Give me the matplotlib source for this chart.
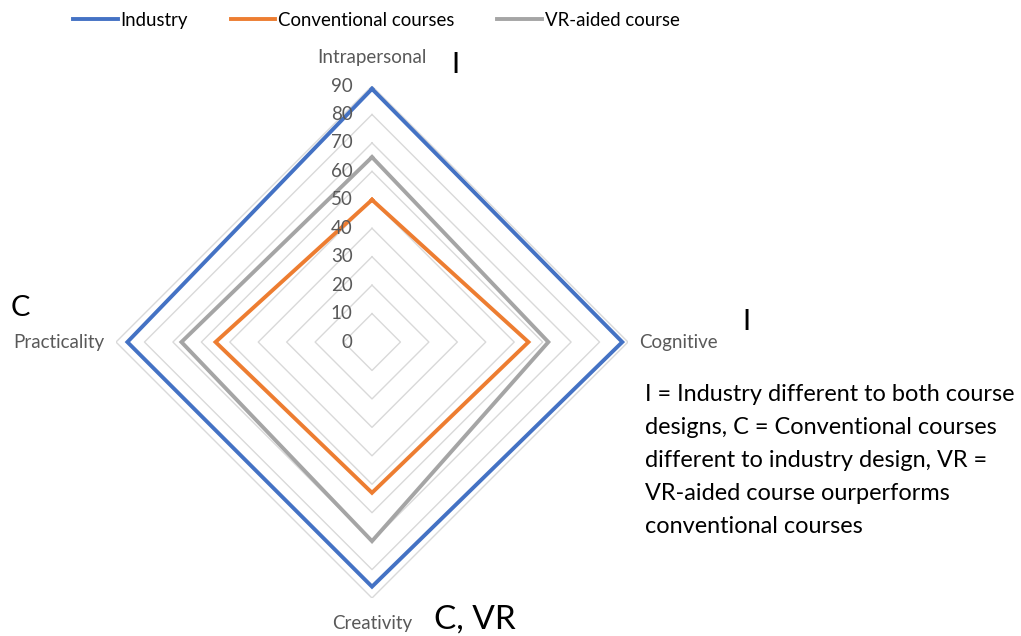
import numpy as np
import matplotlib
matplotlib.use("Agg")
from matplotlib import pyplot as plt

plt.rcParams['font.family'] = ['Lato', 'DejaVu Sans']

categories = ["Intrapersonal", "Cognitive", "Creativity", "Practicality"]
industry = [89, 88, 86, 86]
conventional = [50, 55, 53, 55]
vr_aided = [65, 62, 70, 67]
ring_levels = [10, 20, 30, 40, 50, 60, 70, 80, 90]
tick_labels = ["0", "10", "20", "30", "40", "50", "60", "70", "80", "90"]

series = [("Industry", industry, "#4472C4"),
          ("Conventional courses", conventional, "#ED7D31"),
          ("VR-aided course", vr_aided, "#A5A5A5")]


def closed(vals):
    return list(vals) + [vals[0]]


fig = plt.figure(figsize=(10.21, 6.36), dpi=100)
ax = fig.add_axes([0.1136, 0.0597, 0.5015, 0.805], projection="polar")
ax.set_theta_zero_location("N")
ax.set_theta_direction(-1)
ax.set_ylim(0, 90)
ax.grid(False)
ax.spines["polar"].set_visible(False)
ax.set_xticks([])
ax.set_yticks([])
ax.patch.set_alpha(0)

angles = np.linspace(0, 2 * np.pi, len(categories), endpoint=False)
theta = closed(list(angles))

# diamond gridlines
for lvl in ring_levels:
    ax.plot(theta, [lvl] * len(theta), color="#D9D9D9", lw=1, zorder=1)

handles = []
for name, vals, col in series:
    h, = ax.plot(theta, closed(vals), color=col, lw=2.8, label=name, zorder=3,
                 solid_joinstyle="miter")
    handles.append(h)

# radial value labels
for i, lab in enumerate(tick_labels):
    ax.annotate(lab, xy=(0, i * 10), xytext=(-14, 0), textcoords="offset points",
                ha="right", va="center", fontsize=13.5, color="#595959", zorder=4)

# category labels
lab_col = "#595959"
ax.text(angles[0], 97, categories[0], ha="center", va="bottom", fontsize=13.5, color=lab_col)
ax.text(angles[1], 94, categories[1], ha="left", va="center", fontsize=13.5, color=lab_col)
ax.text(angles[2], 96, categories[2], ha="center", va="top", fontsize=13.5, color=lab_col)
ax.text(angles[3], 94, categories[3], ha="right", va="center", fontsize=13.5, color=lab_col)

fig.legend(handles=handles, loc="upper left", bbox_to_anchor=(0.055, 1.008), ncol=3,
           frameon=False, fontsize=13.4, handlelength=2.4, handletextpad=0.15,
           columnspacing=2.3)

# annotations
fig.text(455 / 1021, 1 - 65 / 636, "I", fontsize=21, ha="center", va="center")
fig.text(746 / 1021, 1 - 322 / 636, "I", fontsize=21, ha="center", va="center")
fig.text(20 / 1021, 1 - 308 / 636, "C", fontsize=21, ha="center", va="center")
fig.text(434 / 1021, 1 - 620 / 636, "C, VR", fontsize=24, ha="left", va="center")
fig.text(645 / 1021, 1 - 384 / 636,
         "I = Industry different to both course\n"
         "designs, C = Conventional courses\n"
         "different to industry design, VR =\n"
         "VR-aided course ourperforms\n"
         "conventional courses",
         fontsize=16.9, ha="left", va="top", linespacing=1.7)

fig.savefig("out.png", dpi=100)
